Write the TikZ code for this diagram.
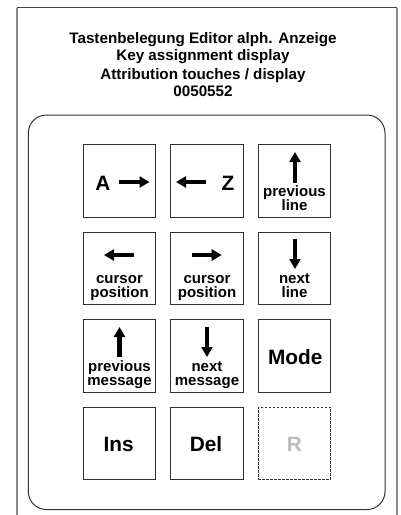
\documentclass[tikz,border=0pt]{standalone}
\usepackage{fontspec}
\setmainfont{Liberation Sans}
\usetikzlibrary{arrows.meta,calc}
\definecolor{framegray}{HTML}{8A8A8A}
\definecolor{framedark}{HTML}{444444}
\definecolor{keyline}{HTML}{333333}
\definecolor{ghost}{HTML}{BDBDBD}
\tikzset{
  titletext/.style={font=\bfseries\fontsize{15.2}{17.8}\selectfont, anchor=base, inner sep=0pt},
  keybox/.style={draw=keyline, line width=0.9pt, minimum size=72.3pt, inner sep=0pt},
  bigtext/.style={font=\bfseries\fontsize{20.8}{21}\selectfont, anchor=base, inner sep=0pt},
  smalltext/.style={font=\bfseries\fontsize{15}{14.3}\selectfont, anchor=base, inner sep=0pt},
  symarrow/.style={line width=4.2pt, -{Triangle[width=11pt,length=10pt]}},
}
\newcommand{\keylbl}[3]{%
  \node[smalltext] (#1a) at ($(#1)+(0,15)$) {#2};
  \node[smalltext] (#1b) at ($(#1)+(0,29.3)$) {#3};
}
\begin{document}
\begin{tikzpicture}[x=1pt,y=-1pt]
\useasboundingbox (0,0) rectangle (401,515);
% outer frame (open at bottom)
\draw[framegray, line width=2pt] (16.7,516) -- (16.7,7.7);
\draw[framegray, line width=2pt] (396.7,516) -- (396.7,7.7);
\draw[framedark, line width=1.5pt] (16.7,7.7) -- (396.7,7.7);
% title
\node[titletext] (t1) at (203,43.3) {Tastenbelegung Editor alph. Anzeige};
\node[titletext] (t2) at (203,60.9) {Key assignment display};
\node[titletext] (t3) at (203,79) {Attribution touches / display};
\node[titletext] (t4) at (203,96.7) {0050552};
% panel
\draw[keyline, line width=1pt, rounded corners=18pt] (28.3,115) rectangle (385,509.5);
% keys
\node[keybox] (k1) at (119.5,181) {};
\node[keybox] (k2) at (207,181) {};
\node[keybox] (k3) at (294.5,181) {};
\node[keybox] (k4) at (119.5,268.5) {};
\node[keybox] (k5) at (207,268.5) {};
\node[keybox] (k6) at (294.5,268.5) {};
\node[keybox] (k7) at (119.5,356) {};
\node[keybox] (k8) at (207,356) {};
\node[keybox] (k9) at (294.5,356) {};
\node[keybox] (k10) at (119.5,443.5) {};
\node[keybox] (k11) at (207,443.5) {};
\node[keybox, dash pattern=on 2.5pt off 1.5pt, line width=0.8pt] (k12) at (294.5,443.5) {};
% row 1
\node[bigtext] (k1t) at ($(k1)+(-16.5,9)$) {A};
\draw[symarrow] ($(k1)+(-0.5,1)$) -- ($(k1)+(30,1)$);
\draw[symarrow] ($(k2)+(-1,1)$) -- ($(k2)+(-31,1)$);
\node[bigtext] (k2t) at ($(k2)+(21,9)$) {Z};
\draw[symarrow] ($(k3)+(0.5,2)$) -- ($(k3)+(0.5,-29)$);
\keylbl{k3}{previous}{line}
% row 2
\draw[symarrow] ($(k4)+(14.5,-13.5)$) -- ($(k4)+(-15.5,-13.5)$);
\keylbl{k4}{cursor}{position}
\draw[symarrow] ($(k5)+(-15.3,-13.5)$) -- ($(k5)+(14.7,-13.5)$);
\keylbl{k5}{cursor}{position}
\draw[symarrow] ($(k6)+(0.5,-29.5)$) -- ($(k6)+(0.5,0.5)$);
\keylbl{k6}{next}{line}
% row 3
\draw[symarrow] ($(k7)+(0,1)$) -- ($(k7)+(0,-29)$);
\keylbl{k7}{previous}{message}
\draw[symarrow] ($(k8)+(0,-29)$) -- ($(k8)+(0,1)$);
\keylbl{k8}{next}{message}
\node[bigtext] (k9t) at ($(k9)+(0.8,8)$) {Mode};
% row 4
\node[bigtext] (k10t) at ($(k10)+(-0.8,8)$) {Ins};
\node[bigtext] (k11t) at ($(k11)+(-1,8)$) {Del};
\node[bigtext, text=ghost] (k12t) at ($(k12)+(0,8)$) {R};
\end{tikzpicture}
\end{document}
